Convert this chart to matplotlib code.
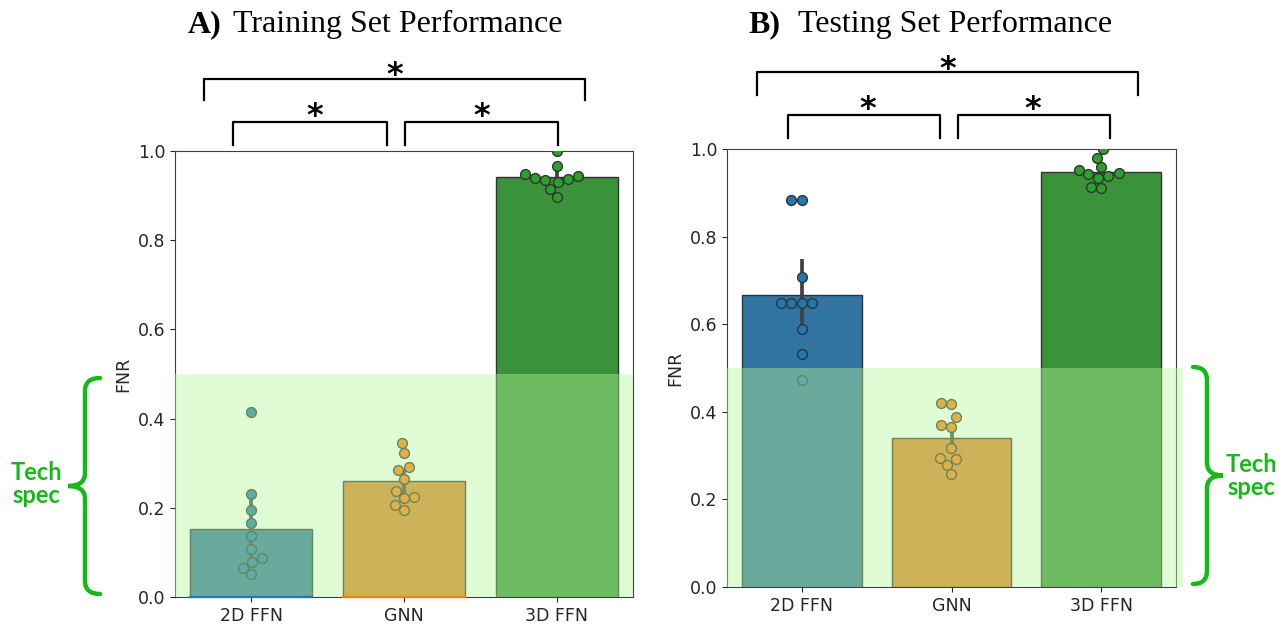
import numpy as np
import matplotlib.pyplot as plt
from matplotlib.path import Path
from matplotlib.patches import PathPatch

W, H = 1288, 625

models = ['2D FFN', 'GNN', '3D FFN']

# FNR per run
train_2d = [0.415, 0.230, 0.194, 0.165, 0.137, 0.108, 0.087, 0.079, 0.066, 0.052]
train_gnn = [0.345, 0.322, 0.291, 0.285, 0.265, 0.237, 0.224, 0.221, 0.207, 0.194]
train_3d = [1.000, 0.966, 0.948, 0.944, 0.939, 0.937, 0.935, 0.931, 0.915, 0.896]
test_2d = [0.884, 0.884, 0.707, 0.648, 0.648, 0.648, 0.648, 0.590, 0.531, 0.472]
test_gnn = [0.421, 0.418, 0.387, 0.370, 0.365, 0.317, 0.295, 0.292, 0.279, 0.257]
test_3d = [1.000, 0.980, 0.958, 0.953, 0.945, 0.942, 0.939, 0.933, 0.913, 0.910]

# 95% CI of the mean (error bars)
train_ci = [(0.075, 0.225), (0.232, 0.287), (0.922, 0.962)]
test_ci = [(0.583, 0.750), (0.317, 0.365), (0.930, 0.965)]

tech_spec = 0.5

bar_cols = ['#3274a1', '#e1812c', '#3a923a']
pt_cols = ['#1f77b4', '#ff7f0e', '#2ca02c']
spec_green = '#16b916'


def fx(x):
    return x / W


def fy(y):
    return 1 - y / H


def swarm(ypix, d):
    order = np.argsort(ypix)
    placed = []
    xs = np.zeros(len(ypix))
    for i in order:
        y = ypix[i]
        cands = [0.0]
        for px_, py_ in placed:
            dy = abs(y - py_)
            if dy < d:
                dx = np.sqrt(d * d - dy * dy)
                cands += [px_ - dx, px_ + dx]
        cands.sort(key=lambda c: abs(c))
        for c in cands:
            if all((c - px_) ** 2 + (y - py_) ** 2 >= d * d - 1e-6 for px_, py_ in placed):
                break
        placed.append((c, y))
        xs[i] = c
    return xs


def panel(ax, groups, ci, right=False):
    means = [np.mean(g) for g in groups]
    ax.bar(range(3), means, width=0.8, color=bar_cols, edgecolor='0.2', linewidth=1, zorder=2)
    for i, (lo, hi) in enumerate(ci):
        ax.plot([i, i], [lo, hi], color='0.26', lw=2.7, solid_capstyle='butt', zorder=2.5)
    ax.set_xlim(-0.5, 2.5)
    ax.set_ylim(0, 1.0)
    ax.set_yticks(np.arange(0, 1.01, 0.2))
    ax.set_yticklabels(['%.1f' % v for v in np.arange(0, 1.01, 0.2)])
    ax.set_xticks(range(3))
    ax.set_xticklabels(models)
    ax.tick_params(labelsize=12.5, colors='0.15')
    ax.set_ylabel('FNR', fontsize=12.5, color='0.15')
    for s in ax.spines.values():
        s.set_color('0.25')
    fig.canvas.draw()
    for i, g in enumerate(groups):
        g = np.asarray(g)
        disp = ax.transData.transform(np.column_stack([np.full(len(g), i), g]))
        off = swarm(disp[:, 1], 10.5)
        xd = ax.transData.inverted().transform(np.column_stack([disp[:, 0] + off, disp[:, 1]]))[:, 0]
        ax.scatter(xd, g, s=50, color=pt_cols[i], edgecolors='0.2', linewidths=1, zorder=3)
    ax.axhspan(0, tech_spec, xmin=0, xmax=1.016 if right else 1.0, color='#b5f899', alpha=0.42,
               lw=0, zorder=10, clip_on=False)


fig = plt.figure(figsize=(W / 100, H / 100), dpi=100)
ax1 = fig.add_axes([fx(175), fy(597), (633 - 175) / W, (597 - 151) / H])
ax2 = fig.add_axes([fx(727), fy(587), (1176 - 727) / W, (587 - 149) / H])
panel(ax1, [train_2d, train_gnn, train_3d], train_ci)
panel(ax2, [test_2d, test_gnn, test_3d], test_ci, right=True)
# thin coloured base lines visible under the first two training bars
for i in range(2):
    ax1.plot([i - 0.4, i + 0.4], [0, 0], color=pt_cols[i], lw=1.6, zorder=11, clip_on=False)

# titles
serif = 'Liberation Serif'
fig.text(fx(188), fy(32), 'A)', family=serif, fontweight='bold', fontsize=23, va='baseline')
fig.text(fx(233), fy(32), 'Training Set Performance', family=serif, fontsize=23, va='baseline')
fig.text(fx(748), fy(32), 'B)', family=serif, fontweight='bold', fontsize=23, va='baseline')
fig.text(fx(798), fy(32), 'Testing Set Performance', family=serif, fontsize=23, va='baseline')


# significance brackets
def bracket(x0, x1, ytop, ybot, xs, ys):
    fig.add_artist(plt.Line2D([fx(x0), fx(x0), fx(x1), fx(x1)], [fy(ybot), fy(ytop), fy(ytop), fy(ybot)],
                              color='black', lw=1.6, solid_joinstyle='round', transform=fig.transFigure))
    fig.text(fx(xs), fy(ys), '*', fontsize=23, fontweight='bold', ha='center', va='baseline')


bracket(204, 585, 79, 100, 395, 84)
bracket(233, 387, 122, 145, 315, 125)
bracket(405, 558, 122, 145, 482, 125)
bracket(757, 1138, 72, 95, 948, 78)
bracket(788, 940, 115, 138, 868, 118)
bracket(958, 1110, 115, 138, 1033, 118)


# tech-spec braces
def brace(xe, xv, xt, yt, yb, r=13):
    ym = (yt + yb) / 2
    pts = [(xe, yt), (xv, yt), (xv, yt + r), (xv, ym - r), (xv, ym), (xt, ym),
           (xv, ym), (xv, ym + r), (xv, yb - r), (xv, yb), (xe, yb)]
    codes = [Path.MOVETO, Path.CURVE3, Path.CURVE3, Path.LINETO, Path.CURVE3, Path.CURVE3,
             Path.CURVE3, Path.CURVE3, Path.LINETO, Path.CURVE3, Path.CURVE3]
    p = Path([(fx(a), fy(b)) for a, b in pts], codes)
    fig.add_artist(PathPatch(p, fill=False, edgecolor=spec_green, lw=3.2, capstyle='round',
                             transform=fig.transFigure))


brace(100, 85, 68, 378, 594)
brace(1193, 1207, 1223, 367, 584)
fig.text(fx(36), fy(484), 'Tech\nspec', family='Lato', fontweight='bold', fontsize=17, color=spec_green,
         ha='center', va='center', linespacing=1.0)
fig.text(fx(1251), fy(476), 'Tech\nspec', family='Lato', fontweight='bold', fontsize=17, color=spec_green,
         ha='center', va='center', linespacing=1.0)

fig.savefig('out.png', dpi=100)
